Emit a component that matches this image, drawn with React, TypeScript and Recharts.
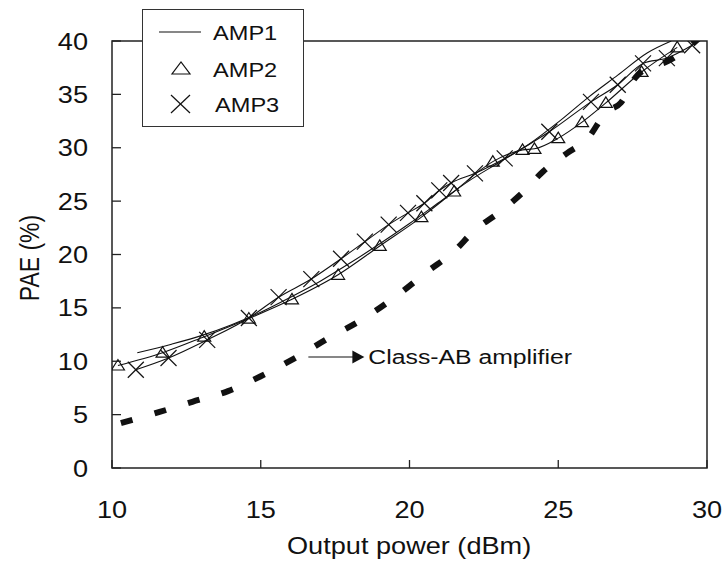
import { LineChart, Line, XAxis, YAxis, ReferenceArea, ReferenceDot } from "recharts";

// axis ticks
const xTicks = [10, 15, 20, 25, 30];
const yTicks = [0, 5, 10, 15, 20, 25, 30, 35, 40];

// AMP1 (plain line)
const amp1X = [10.85, 12.0, 13.0, 14.0, 15.0, 16.0, 17.0, 18.0, 19.0, 20.0, 21.0, 22.0, 23.0, 24.0, 25.0, 26.0, 27.0, 28.0, 28.8];
const amp1Y = [10.8, 11.6, 12.4, 13.4, 14.6, 16.0, 17.5, 19.2, 21.0, 22.9, 24.9, 26.9, 28.6, 30.3, 32.4, 34.7, 36.8, 38.9, 40.0];

// AMP2 (triangles)
const amp2X = [10.2, 11.7, 13.1, 14.6, 16.05, 17.6, 19.0, 20.4, 21.5, 22.8, 23.8, 24.2, 25.0, 25.8, 26.6, 27.8, 29.0];
const amp2Y = [9.6, 10.8, 12.3, 14.0, 15.8, 18.1, 20.8, 23.5, 25.9, 28.7, 29.8, 29.9, 30.9, 32.4, 34.2, 37.1, 39.4];

// AMP3 (crosses)
const amp3X = [10.8, 11.9, 13.2, 14.6, 15.6, 16.7, 17.7, 18.5, 19.3, 19.95, 20.5, 21.0, 21.4, 22.2, 23.2, 24.7, 26.1, 27.0, 27.85, 28.65, 29.5];
const amp3Y = [9.2, 10.3, 12.0, 14.05, 16.0, 17.7, 19.6, 21.2, 22.8, 23.9, 24.8, 26.0, 26.7, 27.6, 29.0, 31.5, 34.3, 35.9, 37.9, 38.4, 39.6];

// Class-AB amplifier (thick dashes)
const classAbX = [10.3, 11.6, 12.7, 13.9, 15.0, 16.15, 17.3, 18.4, 19.6, 20.6, 21.5, 22.2, 23.0, 23.8, 24.5, 25.3, 26.0, 26.6, 27.1, 27.6, 28.1, 28.6, 29.2, 29.8, 30.0];
const classAbY = [4.2, 5.25, 6.2, 7.2, 8.6, 10.3, 12.2, 13.9, 16.2, 18.4, 20.3, 22.3, 23.9, 25.8, 27.8, 29.5, 30.9, 33.3, 34.2, 36.6, 37.6, 38.0, 39.0, 40.4, 40.8];

const toPoints = (xs: number[], ys: number[]) => xs.map((x, i) => ({ x, y: ys[i] }));

const amp1 = toPoints(amp1X, amp1Y);
const amp2 = toPoints(amp2X, amp2Y);
const amp3 = toPoints(amp3X, amp3Y);
const classAb = toPoints(classAbX, classAbY);

const FONT = '"Liberation Sans", Arial, sans-serif';
const INK = "#111";
const STRETCH = 1.18; // source image is a bit wide
const PLOT_LEFT = 112;
const PLOT_BOTTOM = 468;

function YTick({ y, payload }: any) {
  return (
    <g>
      <line x1={PLOT_LEFT} x2={PLOT_LEFT + 9} y1={y} y2={y} stroke="#222" strokeWidth={1.3} />
      <text
        transform={`translate(88, ${y + 8.5}) scale(${STRETCH}, 1)`}
        textAnchor="end"
        fontSize={23}
        fontFamily={FONT}
        fill={INK}
      >
        {payload.value}
      </text>
    </g>
  );
}

function XTick({ x, payload }: any) {
  return (
    <g>
      <line x1={x} x2={x} y1={PLOT_BOTTOM} y2={PLOT_BOTTOM - 8} stroke="#222" strokeWidth={1.3} />
      <text
        transform={`translate(${x}, 518) scale(${STRETCH}, 1)`}
        textAnchor="middle"
        fontSize={23}
        fontFamily={FONT}
        fill={INK}
      >
        {payload.value}
      </text>
    </g>
  );
}

function Triangle({ cx, cy }: any) {
  return (
    <polygon
      points={`${cx - 6.5},${cy + 4.5} ${cx + 6.5},${cy + 4.5} ${cx},${cy - 6}`}
      fill="#fff"
      fillOpacity={0}
      stroke={INK}
      strokeWidth={1.2}
    />
  );
}

function Cross({ cx, cy }: any) {
  const r = 8;
  return (
    <g stroke={INK} strokeWidth={1.2}>
      <line x1={cx - r} y1={cy - r} x2={cx + r} y2={cy + r} />
      <line x1={cx - r} y1={cy + r} x2={cx + r} y2={cy - r} />
    </g>
  );
}

function Annotation({ cx, cy }: any) {
  return (
    <g>
      <line x1={cx} y1={cy} x2={cx + 45} y2={cy} stroke={INK} strokeWidth={1.2} />
      <polygon points={`${cx + 44},${cy - 6.5} ${cx + 56},${cy} ${cx + 44},${cy + 6.5}`} fill={INK} />
      <text
        transform={`translate(${cx + 60}, ${cy + 7.5}) scale(${STRETCH}, 1)`}
        fontSize={21}
        fontFamily={FONT}
        fill={INK}
      >
        Class-AB amplifier
      </text>
    </g>
  );
}

function LegendBox() {
  const txt = { fontSize: 20, fontFamily: FONT, fill: INK } as const;
  return (
    <div
      style={{
        position: "absolute",
        left: 142,
        top: 9,
        width: 160,
        height: 116,
        border: "1.5px solid #333",
        background: "#fff",
      }}
    >
      <svg width={160} height={116}>
        <line x1={16} x2={58} y1={22} y2={22} stroke={INK} strokeWidth={1.2} />
        <text transform={`translate(70, 29.5) scale(${STRETCH}, 1)`} {...txt}>AMP1</text>
        <polygon points="29,64 47,64 38,52" fill="none" stroke={INK} strokeWidth={1.2} />
        <text transform={`translate(70, 66.5) scale(${STRETCH}, 1)`} {...txt}>AMP2</text>
        <g stroke={INK} strokeWidth={1.2}>
          <line x1={28} y1={85} x2={47} y2={103} />
          <line x1={28} y1={103} x2={47} y2={85} />
        </g>
        <text transform={`translate(72, 101.5) scale(${STRETCH}, 1)`} {...txt}>AMP3</text>
      </svg>
    </div>
  );
}

export default function App() {
  return (
    <div style={{ position: "absolute", left: 0, top: 0, width: 725, height: 569, background: "#fff" }}>
      <LineChart width={725} height={569} margin={{ top: 41, right: 18, bottom: 0, left: 0 }}>
        <XAxis
          type="number"
          dataKey="x"
          domain={[10, 30]}
          ticks={xTicks}
          allowDataOverflow
          height={101}
          axisLine={false}
          tickLine={false}
          tick={(p: any) => <XTick {...p} />}
          label={() => (
            <text
              transform={`translate(287, 554) scale(${STRETCH}, 1)`}
              fontSize={23}
              fontFamily={FONT}
              fill={INK}
            >
              Output power (dBm)
            </text>
          )}
        />
        <YAxis
          type="number"
          dataKey="y"
          domain={[0, 40]}
          ticks={yTicks}
          allowDataOverflow
          width={112}
          axisLine={false}
          tickLine={false}
          tick={(p: any) => <YTick {...p} />}
          label={() => (
            <text
              transform={`translate(39, 258) rotate(-90) scale(1, ${STRETCH})`}
              textAnchor="middle"
              fontSize={23}
              fontFamily={FONT}
              fill={INK}
            >
              PAE (%)
            </text>
          )}
        />
        <ReferenceArea x1={10} x2={30} y1={0} y2={40} fill="none" stroke="#222" strokeWidth={1.5} />
        <Line
          data={classAb}
          dataKey="y"
          type="monotone"
          stroke={INK}
          strokeWidth={6}
          strokeDasharray="12 23"
          dot={false}
          activeDot={false}
          isAnimationActive={false}
        />
        <Line
          data={amp1}
          dataKey="y"
          type="monotone"
          stroke={INK}
          strokeWidth={1.1}
          dot={false}
          activeDot={false}
          isAnimationActive={false}
        />
        <Line
          data={amp2}
          dataKey="y"
          type="monotone"
          stroke={INK}
          strokeWidth={1.1}
          dot={(p: any) => <Triangle key={`t${p.index}`} {...p} />}
          activeDot={false}
          isAnimationActive={false}
        />
        <Line
          data={amp3}
          dataKey="y"
          type="monotone"
          stroke={INK}
          strokeWidth={1.1}
          dot={(p: any) => <Cross key={`c${p.index}`} {...p} />}
          activeDot={false}
          isAnimationActive={false}
        />
        <ReferenceDot x={16.6} y={10.4} r={0} shape={(p: any) => <Annotation {...p} />} />
      </LineChart>
      <LegendBox />
    </div>
  );
}
